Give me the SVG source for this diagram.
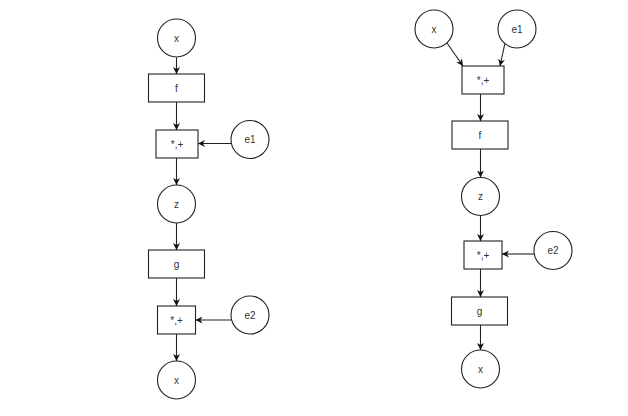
<svg xmlns="http://www.w3.org/2000/svg" width="628" height="416" viewBox="0 0 628 416">
<defs>
<style>
.n{fill:#fff;stroke:#222;stroke-width:1.1}
.t{font-family:"Liberation Sans",Arial,sans-serif;font-size:10px;fill:#333;text-anchor:middle;dominant-baseline:central}
.c{fill:none;stroke:#222;stroke-width:1.1;marker-end:url(#ah)}
</style>
<marker id="ah" viewBox="0 0 10 10" refX="10" refY="5" markerWidth="7" markerHeight="7" markerUnits="userSpaceOnUse" orient="auto">
<path d="M0,0 L10,5 L0,10 L3,5 Z" fill="#111"/>
</marker>
</defs>
<rect width="628" height="416" fill="#fff"/>
<g id="connectors">
<line class="c" x1="176.5" y1="57.5" x2="176.5" y2="74"/>
<line class="c" x1="176.5" y1="102" x2="176.5" y2="130"/>
<line class="c" x1="231" y1="143.5" x2="198" y2="143.5"/>
<line class="c" x1="176.5" y1="158" x2="176.5" y2="185"/>
<line class="c" x1="176.5" y1="223" x2="176.5" y2="250"/>
<line class="c" x1="176.5" y1="278" x2="176.5" y2="306"/>
<line class="c" x1="231" y1="320" x2="195.5" y2="320"/>
<line class="c" x1="176.5" y1="334" x2="176.5" y2="361"/>
<line class="c" x1="447" y1="43" x2="463" y2="66"/>
<line class="c" x1="505" y1="43" x2="500" y2="66"/>
<line class="c" x1="480.5" y1="94" x2="480.5" y2="121"/>
<line class="c" x1="480.5" y1="149" x2="480.5" y2="177.5"/>
<line class="c" x1="480.5" y1="215.5" x2="480.5" y2="241"/>
<line class="c" x1="534" y1="254" x2="502" y2="254"/>
<line class="c" x1="480.5" y1="269" x2="480.5" y2="297"/>
<line class="c" x1="480.5" y1="325" x2="480.5" y2="350"/>
</g>
<g id="L_x"><circle class="n" cx="176.5" cy="38" r="19"/><text class="t" x="176.5" y="38">x</text></g>
<g id="L_f"><rect class="n" x="148.5" y="74" width="56" height="28"/><text class="t" x="176.5" y="88">f</text></g>
<g id="L_op1"><rect class="n" x="156" y="130" width="42" height="28"/><text class="t" x="177" y="144">*,+</text></g>
<g id="L_e1"><circle class="n" cx="250" cy="139.5" r="19"/><text class="t" x="250" y="139.5">e1</text></g>
<g id="L_z"><circle class="n" cx="176.5" cy="204" r="19"/><text class="t" x="176.5" y="204">z</text></g>
<g id="L_g"><rect class="n" x="148.5" y="250" width="56" height="28"/><text class="t" x="176.5" y="264">g</text></g>
<g id="L_op2"><rect class="n" x="157.5" y="306" width="38" height="28"/><text class="t" x="176.5" y="320">*,+</text></g>
<g id="L_e2"><circle class="n" cx="250" cy="315" r="19"/><text class="t" x="250" y="315">e2</text></g>
<g id="L_x2"><circle class="n" cx="176.5" cy="380" r="19"/><text class="t" x="176.5" y="380">x</text></g>
<g id="R_x"><circle class="n" cx="434" cy="29" r="19"/><text class="t" x="434" y="29">x</text></g>
<g id="R_e1"><circle class="n" cx="517" cy="29" r="19"/><text class="t" x="517" y="29">e1</text></g>
<g id="R_op1"><rect class="n" x="462" y="66" width="42" height="28"/><text class="t" x="483" y="80">*,+</text></g>
<g id="R_f"><rect class="n" x="452" y="121" width="56" height="28"/><text class="t" x="480" y="135">f</text></g>
<g id="R_z"><circle class="n" cx="480.5" cy="196.5" r="19"/><text class="t" x="480.5" y="196.5">z</text></g>
<g id="R_op2"><rect class="n" x="464" y="241" width="38" height="28"/><text class="t" x="483" y="255">*,+</text></g>
<g id="R_e2"><circle class="n" cx="553" cy="250.5" r="19"/><text class="t" x="553" y="250.5">e2</text></g>
<g id="R_g"><rect class="n" x="451.5" y="297" width="56" height="28"/><text class="t" x="479.5" y="311">g</text></g>
<g id="R_x2"><circle class="n" cx="480.5" cy="369" r="19"/><text class="t" x="480.5" y="369">x</text></g>
</svg>
